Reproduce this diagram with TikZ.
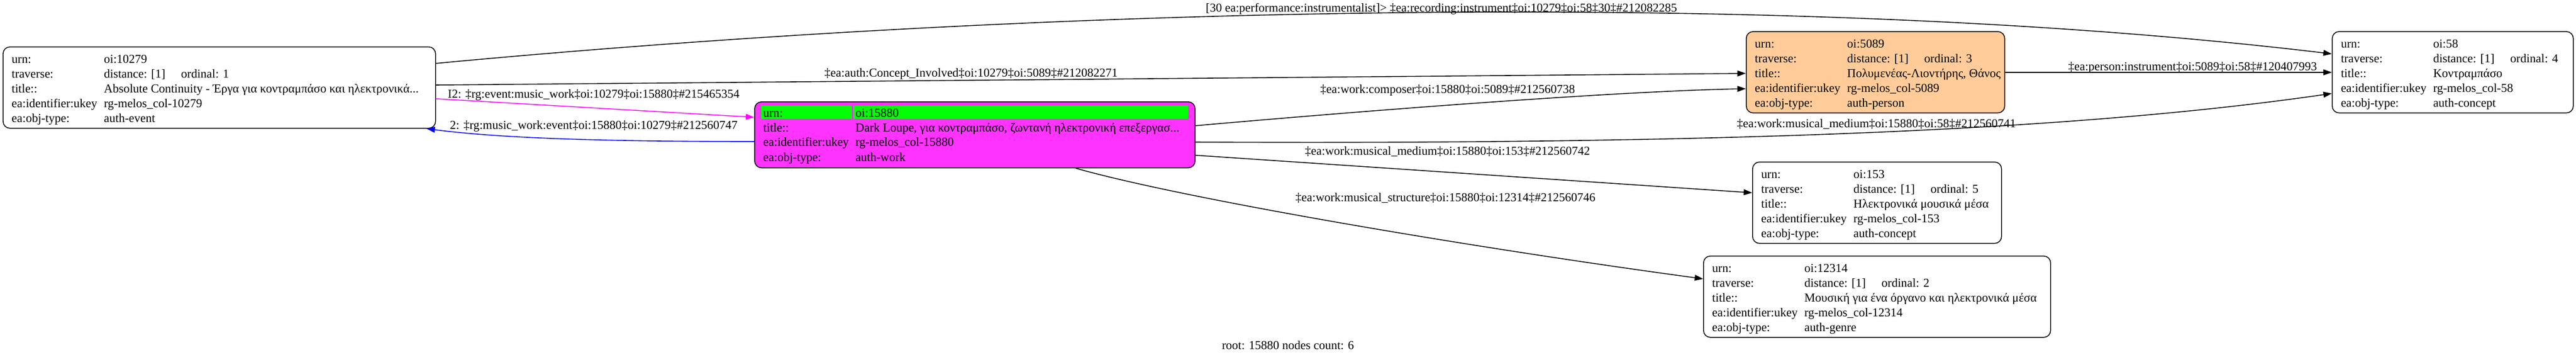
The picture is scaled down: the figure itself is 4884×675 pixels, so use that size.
\documentclass[tikz,border=0pt]{standalone}
\usepackage{fontspec}
\setmainfont{Liberation Serif}
\usetikzlibrary{arrows.meta}
\definecolor{magfill}{HTML}{FF33FF}
\definecolor{orfill}{HTML}{FFCC99}
\definecolor{grfill}{HTML}{00FF00}
\definecolor{edgemag}{HTML}{FF00FF}
\definecolor{edgeblue}{HTML}{0000FF}
\tikzset{
  box/.style={draw=black, line width=1.6pt, rounded corners=13pt, anchor=north west, inner sep=0pt},
  txt/.style={anchor=base west, inner sep=0pt, font=\fontsize{23}{27}\selectfont},
  etxt/.style={inner sep=0pt, font=\fontsize{23}{27}\selectfont},
  link/.style={draw=black, line width=1.6pt, -{Triangle[length=16pt,width=11pt]}},
}
\newcommand\kvrow[6]{\node[txt] (#1k) at (#2,#4) {#5}; \node[txt] (#1v) at (#3,#4) {#6};}
\newcommand\dist[1]{distance: [1]\hspace{1.3em}ordinal: #1}
\begin{document}
\begin{tikzpicture}[x=1pt,y=-1pt]
\useasboundingbox (0,0) rectangle (4884,675);
% boxes
\node[box, minimum width=820pt, minimum height=154pt] (n10279) at (5,88) {};
\node[box, fill=magfill, minimum width=835pt, minimum height=125pt] (n15880) at (1430,192) {};
\node[box, fill=orfill, minimum width=490pt, minimum height=154pt] (n5089) at (3310,59) {};
\node[box, minimum width=457pt, minimum height=154pt] (n58) at (4421,59) {};
\node[box, minimum width=472pt, minimum height=154pt] (n153) at (3322,306) {};
\node[box, minimum width=658pt, minimum height=154pt] (n12314) at (3229,484) {};
% green urn row of the root
\fill[grfill] (1443,200) rectangle (1615,225);
\fill[grfill] (1618,200) rectangle (2253,225);
% node 10279
\kvrow{a1}{22}{197}{119}{urn:}{oi:10279}
\kvrow{a2}{22}{197}{147}{traverse:}{\dist{1}}
\kvrow{a3}{22}{197}{175}{title::}{Absolute Continuity - Έργα για κοντραμπάσο και ηλεκτρονικά...}
\kvrow{a4}{22}{197}{203}{ea:identifier:ukey}{rg-melos\_col-10279}
\kvrow{a5}{22}{197}{231}{ea:obj-type:}{auth-event}
% node 15880
\kvrow{b1}{1447}{1622}{221}{urn:}{oi:15880}
\kvrow{b2}{1447}{1622}{249}{title::}{Dark Loupe, για κοντραμπάσο, ζωντανή ηλεκτρονική επεξεργασ...}
\kvrow{b3}{1447}{1622}{276}{ea:identifier:ukey}{rg-melos\_col-15880}
\kvrow{b4}{1447}{1622}{305}{ea:obj-type:}{auth-work}
% node 5089
\kvrow{c1}{3327}{3502}{90}{urn:}{oi:5089}
\kvrow{c2}{3327}{3502}{118}{traverse:}{\dist{3}}
\kvrow{c3}{3327}{3502}{146}{title::}{Πολυμενέας-Λιοντήρης, Θάνος}
\kvrow{c4}{3327}{3502}{174}{ea:identifier:ukey}{rg-melos\_col-5089}
\kvrow{c5}{3327}{3502}{202}{ea:obj-type:}{auth-person}
% node 58
\kvrow{d1}{4438}{4613}{90}{urn:}{oi:58}
\kvrow{d2}{4438}{4613}{118}{traverse:}{\dist{4}}
\kvrow{d3}{4438}{4613}{146}{title::}{Κοντραμπάσο}
\kvrow{d4}{4438}{4613}{174}{ea:identifier:ukey}{rg-melos\_col-58}
\kvrow{d5}{4438}{4613}{202}{ea:obj-type:}{auth-concept}
% node 153
\kvrow{e1}{3339}{3514}{337}{urn:}{oi:153}
\kvrow{e2}{3339}{3514}{365}{traverse:}{\dist{5}}
\kvrow{e3}{3339}{3514}{393}{title::}{Ηλεκτρονικά μουσικά μέσα}
\kvrow{e4}{3339}{3514}{421}{ea:identifier:ukey}{rg-melos\_col-153}
\kvrow{e5}{3339}{3514}{449}{ea:obj-type:}{auth-concept}
% node 12314
\kvrow{f1}{3246}{3421}{515}{urn:}{oi:12314}
\kvrow{f2}{3246}{3421}{543}{traverse:}{\dist{2}}
\kvrow{f3}{3246}{3421}{571}{title::}{Μουσική για ένα όργανο και ηλεκτρονικά μέσα}
\kvrow{f4}{3246}{3421}{599}{ea:identifier:ukey}{rg-melos\_col-12314}
\kvrow{f5}{3246}{3421}{627}{ea:obj-type:}{auth-genre}
% edges
\draw[link] ([yshift=-32pt]n10279.north east) .. controls (2000,10) and (3400,-20) .. ([yshift=-43pt]n58.north west);
\draw[link] ([yshift=-73pt]n10279.north east) -- ([yshift=-80pt]n5089.north west);
\draw[link, draw=edgemag, -{Triangle[length=16pt,width=11pt,fill=edgemag]}, color=edgemag] ([yshift=-99pt]n10279.north east) -- ([yshift=-30pt]n15880.north west);
\draw[link, draw=edgeblue, color=edgeblue] ([yshift=-76pt]n15880.north west) .. controls (1150,268) and (950,262) .. ([xshift=-18pt]n10279.south east);
\draw[link] ([yshift=-46pt]n15880.north east) .. controls (2700,200) and (3100,172) .. ([yshift=-109pt]n5089.north west);
\draw[link] ([yshift=-77pt]n15880.north east) .. controls (3300,274) and (3950,245) .. ([yshift=-118pt]n58.north west);
\draw[link] ([yshift=-102pt]n15880.north east) -- ([yshift=-59pt]n153.north west);
\draw[link] ([xshift=-227pt]n15880.south east) .. controls (2250,378) and (2800,470) .. ([yshift=-44pt]n12314.north west);
\draw[link] ([yshift=-78pt]n5089.north east) -- ([yshift=-78pt]n58.north west);
% edge labels
\node[etxt, anchor=base west] (l1) at (2286,22) {[30 ea:performance:instrumentalist]> ‡ea:recording:instrument‡oi:10279‡oi:58‡30‡\#212082285};
\node[etxt, anchor=base west] (l2) at (1563,145) {‡ea:auth:Concept\_Involved‡oi:10279‡oi:5089‡\#212082271};
\node[etxt, anchor=base west] (l3) at (849,185) {I2: ‡rg:event:music\_work‡oi:10279‡oi:15880‡\#215465354};
\node[etxt, anchor=base west] (l4) at (853,244) {2: ‡rg:music\_work:event‡oi:15880‡oi:10279‡\#212560747};
\node[etxt, anchor=base west] (l5) at (2503,176) {‡ea:work:composer‡oi:15880‡oi:5089‡\#212560738};
\node[etxt, anchor=base west] (l6) at (3293,241) {‡ea:work:musical\_medium‡oi:15880‡oi:58‡\#212560741};
\node[etxt, anchor=base west] (l7) at (2474,293) {‡ea:work:musical\_medium‡oi:15880‡oi:153‡\#212560742};
\node[etxt, anchor=base west] (l8) at (2456,381) {‡ea:work:musical\_structure‡oi:15880‡oi:12314‡\#212560746};
\node[etxt, anchor=base east] (l9) at (4393,133) {‡ea:person:instrument‡oi:5089‡oi:58‡\#120407993};
\node[etxt, anchor=base] (lroot) at (2442,661) {root: 15880 nodes count: 6};
\end{tikzpicture}
\end{document}
